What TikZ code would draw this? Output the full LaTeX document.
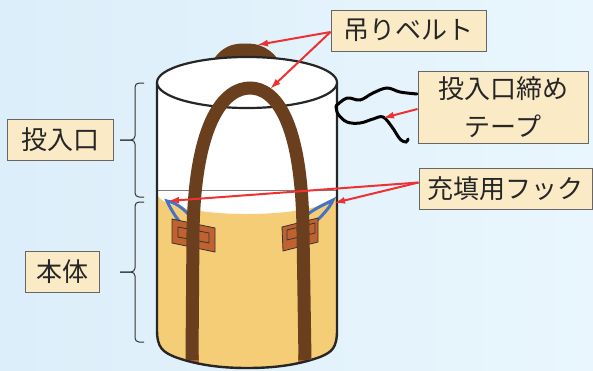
\documentclass[tikz,border=0pt]{standalone}
\usepackage{fontspec}
\newfontfamily\jpfont{Noto Sans CJK JP}
\usetikzlibrary{arrows.meta}

\definecolor{fondoA}{RGB}{220,238,250}
\definecolor{fondoB}{RGB}{233,246,253}
\definecolor{marron}{RGB}{106,63,30}
\definecolor{amarillo}{RGB}{245,205,118}
\definecolor{naranja}{RGB}{192,98,48}
\definecolor{azul}{RGB}{70,114,196}
\definecolor{rojo}{RGB}{238,50,50}
\definecolor{crema}{RGB}{250,234,198}

\begin{document}
\begin{tikzpicture}[
        x=1pt, y=-1pt,
        etiqueta/.style={draw=gray!80!black, line width=1pt, fill=crema, inner sep=0pt,
            minimum height=41pt, align=center, text=black!85,
            font=\jpfont\fontsize{26}{38}\selectfont},
        flecha/.style={-{Latex[length=11pt, width=7pt]}, rojo, line width=2pt},
        correa/.style={marron, line width=13pt},
        gancho/.style={azul, line width=3pt, line cap=round},
        parche/.style={fill=naranja, draw=black!80, line width=0.8pt},
        cinta/.style={black, line width=3pt, line cap=round},
        llave/.style={black!80, line width=1pt, rounded corners=4pt}
    ]
        \useasboundingbox (0,0) rectangle (593,370);
        \shade[left color=fondoA, right color=fondoB] (0,0) rectangle (593,370);

        % back side of the lifting belt, seen over the rim
        \draw[correa] (214,72) .. controls (224,50) and (236,50) .. (246,50)
            .. controls (256,50) and (268,52) .. (278,72);

        % bag body
        \fill[white] (157,82.5) -- (157,330) .. controls (157,348) and (163,352) .. (175,357)
            .. controls (200,366) and (225,368) .. (247,368)
            .. controls (270,368) and (295,366) .. (320,357)
            .. controls (332,352) and (337,348) .. (337,330) -- (337,82.5) -- cycle;
        \fill[amarillo] (157,193) .. controls (157,205) and (197,214) .. (247,214)
            .. controls (297,214) and (337,205) .. (337,193)
            -- (337,330) .. controls (337,348) and (332,352) .. (320,357)
            .. controls (295,366) and (270,368) .. (247,368)
            .. controls (225,368) and (200,366) .. (175,357)
            .. controls (163,352) and (157,348) .. (157,330) -- cycle;
        \begin{scope}
            \clip (157,300) -- (157,330) .. controls (157,348) and (163,352) .. (175,357)
                .. controls (200,366) and (225,368) .. (247,368)
                .. controls (270,368) and (295,366) .. (320,357)
                .. controls (332,352) and (337,348) .. (337,330) -- (337,300) -- cycle;
            \fill[naranja] (186,355) rectangle (199,370);
            \fill[naranja] (298,355) rectangle (311,370);
        \end{scope}
        \draw[gray, line width=1pt] (157,190) -- (337,190);
        \draw[black!85, line width=2.4pt] (157,82.5) -- (157,330)
            .. controls (157,348) and (163,352) .. (175,357)
            .. controls (200,366) and (225,368) .. (247,368)
            .. controls (270,368) and (295,366) .. (320,357)
            .. controls (332,352) and (337,348) .. (337,330) -- (337,82.5);
        \draw[black!85, line width=2.2pt, fill=white] (247,82.5) ellipse [x radius=90pt, y radius=25.5pt];

        % filling hooks
        \draw[gancho] (186,229) .. controls (178,221) and (171,210) .. (167,201)
            .. controls (178,203) and (188,212) .. (194,222);
        \draw[gancho] (311,226) .. controls (320,218) and (330,208) .. (333,200)
            .. controls (325,204) and (316,208) .. (308,214);

        % belt patches
        \draw[parche] (172,219) -- (215,228) -- (215,252) -- (172,243) -- cycle;
        \draw[parche] (178,227) -- (209,233) -- (209,243) -- (178,237) -- cycle;
        \draw[parche] (282,227) -- (318,218) -- (318,242) -- (283,251) -- cycle;
        \draw[parche] (287,230) -- (315,223) -- (315,233) -- (287,240) -- cycle;

        % front belt
        \draw[correa] (192,360) -- (193,232) .. controls (195,120) and (225,88) .. (250,88)
            .. controls (275,88) and (302,120) .. (303,232) -- (305,360);

        % closing tape
        \draw[cinta] plot[smooth, tension=0.6] coordinates
            {(336,106) (347,98) (360,100) (373,93) (387,88) (400,92) (417,94)};
        \draw[cinta] plot[smooth, tension=0.6] coordinates
            {(336,106) (338,114) (347,122) (360,123) (373,119) (383,117) (392,127) (400,139) (406,142) (408,139)};

        % labels
        \node[etiqueta, minimum width=155pt] (lblcorrea) at (408.5,30.5) {吊りベルト};
        \node[etiqueta, minimum width=170pt, minimum height=72pt] (lblcinta) at (503,107) {投入口締め\\テープ};
        \node[etiqueta, minimum width=173pt] (lblgancho) at (505.5,188.5) {充填用フック};
        \node[etiqueta, minimum width=106pt] (lblboca) at (60,139.5) {投入口};
        \node[etiqueta, minimum width=74pt] (lblcuerpo) at (62,271.5) {本体};

        \coordinate (joroba) at (257,45);
        \coordinate (arco) at (270,89);
        \coordinate (punta) at (383,118);
        \coordinate (ganchoI) at (168,201);
        \coordinate (ganchoD) at (334,203);

        \draw[flecha] ([yshift=-1.5pt]lblcorrea.west) -- (joroba);
        \draw[flecha] ([yshift=-1.5pt]lblcorrea.west) -- (arco);
        \draw[flecha] ([yshift=-2pt]lblcinta.west) -- (punta);
        \draw[flecha] ([yshift=6pt]lblgancho.west) -- (ganchoI);
        \draw[flecha] ([yshift=6pt]lblgancho.west) -- (ganchoD);

        % braces
        \draw[llave] (144,83) -- (135,83) -- (135,140) -- (120,140);
        \draw[llave] (144,197) -- (135,197) -- (135,140) -- (120,140);
        \draw[llave] (144,202) -- (135,202) -- (135,272) -- (120,272);
        \draw[llave] (144,342) -- (135,342) -- (135,272) -- (120,272);
    \end{tikzpicture}
\end{document}
